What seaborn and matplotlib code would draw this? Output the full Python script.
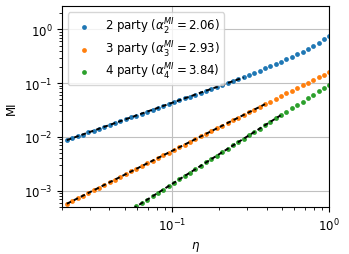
import matplotlib
matplotlib.use('Agg')
import matplotlib.pyplot as plt
import seaborn as sns
import pandas as pd

# --- data ---
eta = [0.02143, 0.02318, 0.02507, 0.02711, 0.02932, 0.03172, 0.03430, 0.03710, 0.04013, 0.04340,
       0.04694, 0.05077, 0.05492, 0.05940, 0.06424, 0.06948, 0.07515, 0.08129, 0.08792, 0.09509,
       0.10285, 0.11124, 0.12032, 0.13014, 0.14075, 0.15224, 0.16466, 0.17809, 0.19262, 0.20834,
       0.22534, 0.24372, 0.26361, 0.28512, 0.30838, 0.33354, 0.36076, 0.39019, 0.42203, 0.45646,
       0.49371, 0.53399, 0.57756, 0.62469, 0.67566, 0.73079, 0.79042, 0.85491, 0.92467, 1.0]

mi_2party = [0.00873, 0.00946, 0.0103, 0.0111, 0.0121, 0.0131, 0.0142, 0.0154, 0.0167, 0.0181,
             0.0196, 0.0213, 0.0231, 0.0250, 0.0271, 0.0294, 0.0319, 0.0346, 0.0375, 0.0407,
             0.0441, 0.0479, 0.0520, 0.0564, 0.0613, 0.0666, 0.0723, 0.0786, 0.0854, 0.0929,
             0.101, 0.110, 0.120, 0.131, 0.143, 0.156, 0.171, 0.188, 0.206, 0.227,
             0.251, 0.278, 0.309, 0.345, 0.387, 0.436, 0.496, 0.568, 0.656, 0.767]

mi_3party = [0.000571, 0.000641, 0.000719, 0.000807, 0.000905, 0.00102, 0.00114, 0.00128, 0.00144, 0.00161,
             0.00181, 0.00203, 0.00228, 0.00256, 0.00287, 0.00322, 0.00361, 0.00405, 0.00455, 0.00510,
             0.00573, 0.00643, 0.00721, 0.00809, 0.00908, 0.0102, 0.0114, 0.0128, 0.0144, 0.0162,
             0.0181, 0.0204, 0.0228, 0.0256, 0.0288, 0.0323, 0.0362, 0.0407, 0.0456, 0.0512,
             0.0575, 0.0645, 0.0724, 0.0812, 0.0911, 0.102, 0.115, 0.129, 0.145, 0.162]

mi_4party = [7.74e-5, 8.95e-5, 1.03e-4, 1.20e-4, 1.38e-4, 1.60e-4, 1.85e-4, 2.14e-4, 2.47e-4, 2.85e-4,
             3.30e-4, 3.82e-4, 4.41e-4, 5.10e-4, 5.89e-4, 6.81e-4, 7.88e-4, 9.10e-4, 1.05e-3, 1.22e-3,
             1.41e-3, 1.63e-3, 1.88e-3, 2.17e-3, 2.51e-3, 2.90e-3, 3.36e-3, 3.88e-3, 4.49e-3, 5.19e-3,
             5.99e-3, 6.93e-3, 8.01e-3, 9.26e-3, 0.0107, 0.0124, 0.0143, 0.0165, 0.0191, 0.0221,
             0.0255, 0.0295, 0.0341, 0.0395, 0.0456, 0.0527, 0.0610, 0.0705, 0.0815, 0.0942]

labels = [r'2 party ($\alpha_2^{MI}=2.06$)',
          r'3 party ($\alpha_3^{MI}=2.93$)',
          r'4 party ($\alpha_4^{MI}=3.84$)']

# power-law fits (dashed), start / end of each fitted segment
fit_eta_2 = [0.02143, 0.285]
fit_mi_2 = [0.00873, 0.128]
fit_eta_3 = [0.02143, 0.39]
fit_mi_3 = [0.000571, 0.0407]
fit_eta_4 = [0.02143, 0.49]
fit_mi_4 = [7.74e-5, 0.0252]

plt.rcParams['font.size'] = 8.5

fig, ax = plt.subplots(figsize=(3.49, 2.55), dpi=100)
fig.subplots_adjust(left=0.178, right=0.9436, top=0.9715, bottom=0.183)

colors = sns.color_palette('tab10', 3)
for mi, lab, col in zip([mi_2party, mi_3party, mi_4party], labels, colors):
    df = pd.DataFrame({'eta': eta, 'MI': mi})
    sns.scatterplot(data=df, x='eta', y='MI', color=col, s=12, linewidth=0,
                    label=lab, ax=ax, zorder=2)

for fx, fy in [(fit_eta_2, fit_mi_2), (fit_eta_3, fit_mi_3), (fit_eta_4, fit_mi_4)]:
    ax.plot(fx, fy, color='black', lw=1.4, dashes=(2.4, 1.6), zorder=3)

ax.set_xscale('log')
ax.set_yscale('log')
ax.set_xlim(0.02, 1.0)
ax.set_ylim(4.9e-4, 2.7)
ax.grid(True, which='major', color='#c0c0c0', lw=0.8)
ax.set_axisbelow(True)
ax.set_xlabel(r'$\eta$')
ax.set_ylabel('MI')
ax.legend(loc='upper left', labelspacing=0.2, borderpad=0.35)

fig.savefig('out.png', dpi=100)
